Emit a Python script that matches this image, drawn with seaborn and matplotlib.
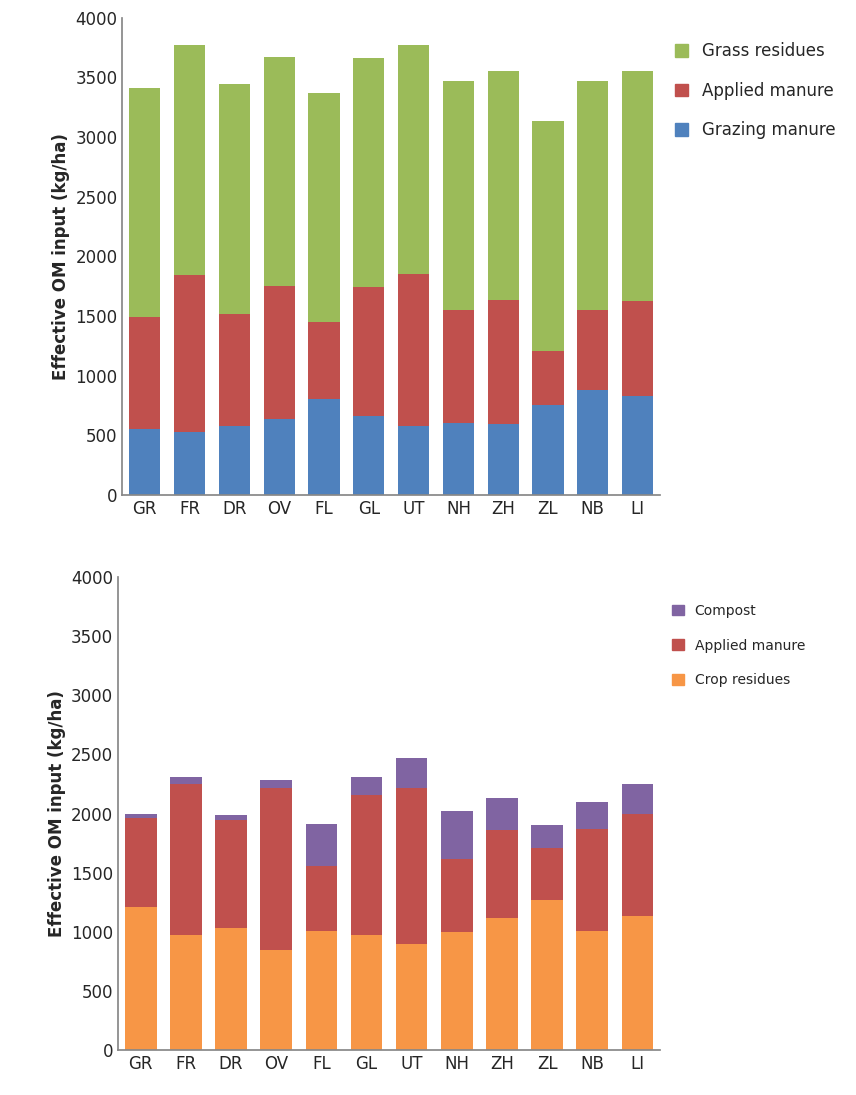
import numpy as np
import pandas as pd
import matplotlib
matplotlib.use('Agg')
import matplotlib.pyplot as plt
import seaborn as sns
from matplotlib.patches import Patch

sns.set_theme(style='white')
plt.rcParams['font.family'] = ['DejaVu Sans']

regions = ['GR', 'FR', 'DR', 'OV', 'FL', 'GL', 'UT', 'NH', 'ZH', 'ZL', 'NB', 'LI']

# grassland (top panel)
grazing_manure = [555, 530, 575, 640, 800, 660, 580, 605, 595, 750, 880, 830]
grass_applied_manure = [935, 1310, 945, 1110, 645, 1080, 1270, 945, 1040, 460, 670, 795]
grass_residues = [1920, 1930, 1920, 1920, 1925, 1920, 1920, 1920, 1920, 1925, 1920, 1930]

# arable (bottom panel)
crop_residues = [1210, 975, 1035, 845, 1005, 975, 900, 995, 1120, 1270, 1005, 1130]
arable_applied_manure = [750, 1275, 910, 1375, 555, 1185, 1320, 625, 740, 440, 865, 870]
compost = [40, 60, 45, 60, 350, 150, 250, 400, 270, 190, 230, 250]

green, red, blue = '#9BBB59', '#C0504D', '#4F81BD'
purple, orange = '#8064A2', '#F79646'

fig = plt.figure(figsize=(8.56, 10.95), dpi=100)
ax1 = fig.add_axes([0.143, 0.548, 0.628, 0.436])
ax2 = fig.add_axes([0.138, 0.041, 0.633, 0.432])


def stack(ax, layers, colors):
    bottom = np.zeros(len(regions))
    for vals, col in zip(layers, colors):
        df = pd.DataFrame({'region': regions, 'value': vals})
        sns.barplot(data=df, x='region', y='value', color=col, width=0.7,
                    bottom=bottom, ax=ax, saturation=1, linewidth=0)
        bottom = bottom + np.array(vals)


stack(ax1, [grazing_manure, grass_applied_manure, grass_residues], [blue, red, green])
stack(ax2, [crop_residues, arable_applied_manure, compost], [orange, red, purple])

for ax in (ax1, ax2):
    ax.set_ylim(0, 4000)
    ax.set_yticks(range(0, 4001, 500))
    ax.set_xlabel('')
    ax.set_ylabel('Effective OM input (kg/ha)', fontsize=12, fontweight='bold')
    ax.tick_params(labelsize=12, length=0)
    for s in ['top', 'right']:
        ax.spines[s].set_visible(False)
    for s in ['left', 'bottom']:
        ax.spines[s].set_color('#888888')

h1 = [Patch(color=green), Patch(color=red), Patch(color=blue)]
ax1.legend(h1, ['Grass residues', 'Applied manure', 'Grazing manure'],
           loc='upper left', bbox_to_anchor=(1.0, 0.98), frameon=False,
           fontsize=12, handlelength=0.8, handleheight=0.8, labelspacing=1.3)
h2 = [Patch(color=purple), Patch(color=red), Patch(color=orange)]
ax2.legend(h2, ['Compost', 'Applied manure', 'Crop residues'],
           loc='upper left', bbox_to_anchor=(1.0, 0.97), frameon=False,
           fontsize=10, handlelength=0.8, handleheight=0.8, labelspacing=1.5)

fig.savefig('out.png', dpi=100)
